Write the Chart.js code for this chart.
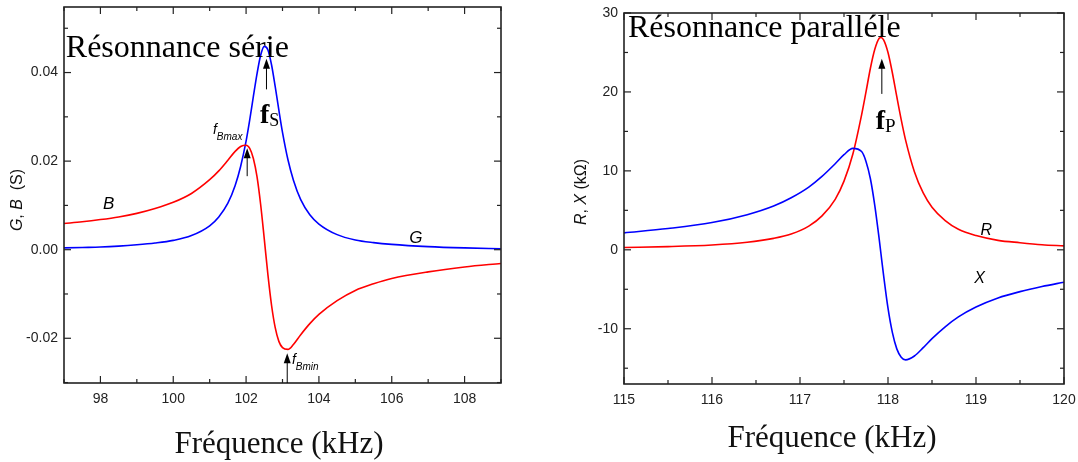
<!DOCTYPE html>
<html>
<head>
<meta charset="utf-8">
<script src="https://cdn.jsdelivr.net/npm/chart.js@4.4.1/dist/chart.umd.min.js"></script>
<style>
  html, body { margin: 0; padding: 0; background: #fff; }
  #wrap { position: relative; width: 1078px; height: 462px; overflow: hidden; }
  #left { position: absolute; left: 0; top: 0; }
  #right { position: absolute; left: 540px; top: 0; }
</style>
</head>
<body>
<div id="wrap">
  <canvas id="left" width="540" height="462"></canvas>
  <canvas id="right" width="538" height="462"></canvas>
</div>
<script>
// --- series resonance (admittance, S) ---
var freqSerie = [97, 97.5, 98, 98.5, 99, 99.5, 100, 100.5, 101, 101.25, 101.5, 101.7, 101.85, 102, 102.1, 102.2, 102.3, 102.4, 102.5, 102.6, 102.7, 102.8, 102.9, 103, 103.15, 103.3, 103.5, 103.75, 104, 104.5, 105, 105.5, 106, 107, 108, 109];
var gSerie = [0.0004, 0.0005, 0.0006, 0.0008, 0.0011, 0.0015, 0.0021, 0.0032, 0.0054, 0.0074, 0.0105, 0.0145, 0.0188, 0.0245, 0.0293, 0.0346, 0.0397, 0.0439, 0.0459, 0.0451, 0.0417, 0.0368, 0.0315, 0.0265, 0.0203, 0.0157, 0.0113, 0.0079, 0.0058, 0.0034, 0.0022, 0.0016, 0.0012, 0.0007, 0.0004, 0.0002];
var bSerie = [0.0059, 0.0063, 0.0068, 0.0074, 0.0082, 0.0093, 0.0107, 0.0127, 0.0158, 0.0178, 0.0202, 0.0222, 0.0233, 0.0236, 0.0229, 0.0206, 0.0165, 0.0102, 0.0024, -0.0057, -0.0126, -0.0176, -0.0207, -0.0221, -0.0225, -0.0214, -0.0192, -0.0167, -0.0146, -0.0115, -0.0092, -0.0077, -0.0065, -0.0050, -0.0039, -0.0031];

// --- parallel resonance (impedance, kOhm) ---
var freqPar = [115, 115.5, 116, 116.4, 116.7, 116.9, 117.1, 117.25, 117.4, 117.5, 117.6, 117.7, 117.75, 117.8, 117.85, 117.9, 117.92, 117.95, 118, 118.05, 118.1, 118.15, 118.2, 118.3, 118.4, 118.5, 118.65, 118.8, 119, 119.25, 119.5, 119.75, 120];
var rPar = [0.3, 0.4, 0.6, 0.95, 1.45, 2.0, 3.0, 4.3, 6.4, 8.7, 12.1, 17.1, 20.0, 23.0, 25.4, 26.8, 26.9, 26.6, 25.0, 22.4, 19.4, 16.5, 13.9, 9.9, 7.2, 5.4, 3.7, 2.6, 1.8, 1.2, 0.9, 0.65, 0.5];
var xPar = [2.15, 2.7, 3.45, 4.45, 5.55, 6.6, 7.95, 9.3, 10.9, 12.05, 12.85, 12.45, 11.2, 9.0, 5.6, 1.35, -0.5, -3.25, -7.4, -10.5, -12.55, -13.6, -13.95, -13.45, -12.4, -11.25, -9.75, -8.5, -7.25, -6.1, -5.3, -4.65, -4.1];

// ticks
var xTicksSerie = [98, 100, 102, 104, 106, 108];
var xMinorSerie = [97, 99, 101, 103, 105, 107, 109];
var yTicksSerie = [-0.02, 0, 0.02, 0.04];
var yMinorSerie = [-0.03, -0.01, 0.01, 0.03, 0.05];
var xTicksPar = [115, 116, 117, 118, 119, 120];
var xMinorPar = [115.5, 116.5, 117.5, 118.5, 119.5];
var yTicksPar = [-10, 0, 10, 20, 30];
var yMinorPar = [-15, -5, 5, 15, 25];

var SANS = "'Liberation Sans', Arial, sans-serif";
var SERIF = "'Liberation Serif', 'Times New Roman', serif";

function pts(xs, ys) {
    return xs.map(function (x, i) { return { x: x, y: ys[i] }; });
}

function drawRuns(ctx, x, y, runs, align, rotate) {
    ctx.save();
    ctx.translate(x, y);
    if (rotate) ctx.rotate(-Math.PI / 2);
    var total = 0;
    runs.forEach(function (r) { ctx.font = r.font; total += ctx.measureText(r.text).width; });
    var cx = align === 'center' ? -total / 2 : 0;
    runs.forEach(function (r) {
        ctx.font = r.font;
        ctx.fillText(r.text, cx, r.dy || 0);
        cx += ctx.measureText(r.text).width;
    });
    ctx.restore();
}

function arrow(ctx, x, yTail, yHead) {
    ctx.beginPath();
    ctx.moveTo(x, yTail);
    ctx.lineTo(x, yHead + 6);
    ctx.stroke();
    ctx.beginPath();
    ctx.moveTo(x, yHead);
    ctx.lineTo(x - 3.5, yHead + 10);
    ctx.lineTo(x + 3.5, yHead + 10);
    ctx.closePath();
    ctx.fill();
}

// frame, inward ticks, titles and annotations
var decor = {
    id: 'decor',
    afterDraw: function (chart, args, opts) {
        var ctx = chart.ctx, a = chart.chartArea;
        var xs = chart.scales.x, ys = chart.scales.y;
        ctx.save();
        ctx.strokeStyle = '#222';
        ctx.fillStyle = '#000';
        ctx.lineWidth = 1.2;
        function seg(x0, y0, x1, y1) { ctx.beginPath(); ctx.moveTo(x0, y0); ctx.lineTo(x1, y1); ctx.stroke(); }
        function tx(v, len) { var p = xs.getPixelForValue(v); seg(p, a.bottom, p, a.bottom - len); seg(p, a.top, p, a.top + len); }
        function ty(v, len) { var p = ys.getPixelForValue(v); seg(a.left, p, a.left + len, p); seg(a.right, p, a.right - len, p); }
        opts.xMajor.forEach(function (v) { tx(v, 7); });
        opts.xMinor.forEach(function (v) { tx(v, 4); });
        opts.yMajor.forEach(function (v) { ty(v, 7); });
        opts.yMinor.forEach(function (v) { ty(v, 4); });
        ctx.lineWidth = 1.6;
        ctx.strokeRect(a.left, a.top, a.right - a.left, a.bottom - a.top);

        ctx.fillStyle = '#111';
        ctx.textBaseline = 'alphabetic';
        // axis titles
        drawRuns(ctx, opts.xTitleX, opts.xTitleY, [{ text: 'Fréquence (kHz)', font: '31px ' + SERIF }], 'center');
        ctx.textBaseline = 'middle';
        drawRuns(ctx, opts.yTitleX, opts.yTitleY, opts.yTitle, 'center', true);
        ctx.textBaseline = 'alphabetic';

        // annotations in data coordinates
        ctx.lineWidth = 1;
        ctx.strokeStyle = '#000';
        ctx.fillStyle = '#000';
        opts.arrows.forEach(function (ar) {
            arrow(ctx, xs.getPixelForValue(ar.x), ys.getPixelForValue(ar.from), ys.getPixelForValue(ar.to));
        });
        opts.labels.forEach(function (lb) {
            drawRuns(ctx, xs.getPixelForValue(lb.x), ys.getPixelForValue(lb.y), lb.runs, 'left');
        });
        ctx.restore();
    }
};

function makeChart(id, cfg) {
    return new Chart(document.getElementById(id), {
        type: 'line',
        data: {
            datasets: cfg.series.map(function (s) {
                return {
                    data: s.data,
                    borderColor: s.color,
                    borderWidth: 1.6,
                    pointRadius: 0,
                    fill: false,
                    cubicInterpolationMode: 'monotone'
                };
            })
        },
        options: {
            responsive: false,
            animation: false,
            layout: { padding: { top: cfg.top, right: cfg.right, left: 0, bottom: 0 } },
            plugins: { legend: { display: false }, tooltip: { enabled: false }, decor: cfg.decor },
            scales: {
                x: {
                    type: 'linear',
                    min: cfg.xMin, max: cfg.xMax,
                    grid: { display: false, drawTicks: false },
                    border: { display: false },
                    afterBuildTicks: function (s) { s.ticks = cfg.xTicks.map(function (v) { return { value: v }; }); },
                    afterFit: function (s) { s.height = cfg.xHeight; s.paddingLeft = 0; s.paddingRight = 0; },
                    ticks: { padding: 8, color: '#222', font: { family: SANS, size: 14 }, maxRotation: 0, callback: function (v) { return String(v); } }
                },
                y: {
                    type: 'linear',
                    min: cfg.yMin, max: cfg.yMax,
                    grid: { display: false, drawTicks: false },
                    border: { display: false },
                    afterBuildTicks: function (s) { s.ticks = cfg.yTicks.map(function (v) { return { value: v }; }); },
                    afterFit: function (s) { s.width = cfg.yWidth; s.paddingTop = 0; s.paddingBottom = 0; },
                    ticks: { padding: 6, color: '#222', font: { family: SANS, size: 14 }, callback: cfg.yFormat }
                }
            }
        },
        plugins: [decor]
    });
}

var it = function (sz) { return 'italic ' + sz + 'px ' + SANS; };

makeChart('left', {
    top: 7, right: 39, xHeight: 79, yWidth: 64,
    xMin: 97, xMax: 109, yMin: -0.0301, yMax: 0.0548,
    xTicks: xTicksSerie, yTicks: yTicksSerie,
    yFormat: function (v) { return v.toFixed(2); },
    series: [
        { data: pts(freqSerie, bSerie), color: '#ff0000' },
        { data: pts(freqSerie, gSerie), color: '#0000ff' }
    ],
    decor: {
        xMajor: xTicksSerie, xMinor: xMinorSerie, yMajor: yTicksSerie, yMinor: yMinorSerie,
        xTitleX: 279, xTitleY: 453,
        yTitleX: 18, yTitleY: 200,
        yTitle: [{ text: 'G', font: it(16) }, { text: ', ', font: '16px ' + SANS }, { text: 'B', font: it(16) }, { text: '  (S)', font: '16px ' + SANS }],
        arrows: [
            { x: 102.56, from: 0.0362, to: 0.0431 },
            { x: 102.03, from: 0.0166, to: 0.0229 },
            { x: 103.13, from: -0.0301, to: -0.0234 }
        ],
        labels: [
            { x: 97.05, y: 0.0436, runs: [{ text: 'Résonnance série', font: '32px ' + SERIF }] },
            { x: 102.38, y: 0.0285, runs: [{ text: 'f', font: 'bold 28px ' + SERIF }, { text: 'S', font: '18px ' + SERIF, dy: 3 }] },
            { x: 101.09, y: 0.0261, runs: [{ text: 'f', font: it(14) }, { text: 'Bmax', font: it(10), dy: 6 }] },
            { x: 103.26, y: -0.0258, runs: [{ text: 'f', font: it(14) }, { text: 'Bmin', font: it(10), dy: 6 }] },
            { x: 98.07, y: 0.0092, runs: [{ text: 'B', font: it(17) }] },
            { x: 106.48, y: 0.0016, runs: [{ text: 'G', font: it(17) }] }
        ]
    }
});

makeChart('right', {
    top: 13, right: 14, xHeight: 78, yWidth: 84,
    xMin: 115, xMax: 120, yMin: -17, yMax: 30,
    xTicks: xTicksPar, yTicks: yTicksPar,
    yFormat: function (v) { return String(v); },
    series: [
        { data: pts(freqPar, xPar), color: '#0000ff' },
        { data: pts(freqPar, rPar), color: '#ff0000' }
    ],
    decor: {
        xMajor: xTicksPar, xMinor: xMinorPar, yMajor: yTicksPar, yMinor: yMinorPar,
        xTitleX: 292, xTitleY: 447,
        yTitleX: 42, yTitleY: 192,
        yTitle: [{ text: 'R', font: it(16) }, { text: ', ', font: '16px ' + SANS }, { text: 'X', font: it(16) }, { text: ' (kΩ)', font: '16px ' + SANS }],
        arrows: [
            { x: 117.93, from: 19.75, to: 24.2 }
        ],
        labels: [
            { x: 115.045, y: 26.96, runs: [{ text: 'Résonnance paralléle', font: '32px ' + SERIF }] },
            { x: 117.86, y: 15.3, runs: [{ text: 'f', font: 'bold 28px ' + SERIF }, { text: 'P', font: '19px ' + SERIF, dy: 3 }] },
            { x: 119.05, y: 1.9, runs: [{ text: 'R', font: it(16) }] },
            { x: 118.98, y: -4.2, runs: [{ text: 'X', font: it(16) }] }
        ]
    }
});
</script>
</body>
</html>
